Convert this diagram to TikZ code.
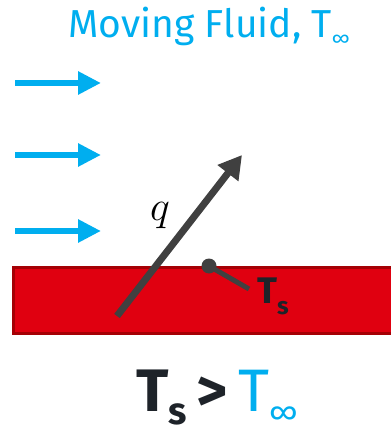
\RequirePackage{fix-cm}
\documentclass[tikz,border=0pt]{standalone}
\usepackage{fontspec}
\setmainfont{Fira Sans}
\usepackage{tikz}
\usetikzlibrary{arrows.meta}

\definecolor{fluidblue}{RGB}{0,174,239}
\definecolor{platered}{RGB}{224,0,16}
\definecolor{plateedge}{RGB}{165,0,5}
\definecolor{heatgray}{RGB}{64,64,64}
\definecolor{labeldark}{RGB}{30,35,41}

\begin{document}
\begin{tikzpicture}[x=1pt, y=-1pt,
  flow/.style={draw=fluidblue, line width=6pt, -{Triangle[length=23pt, width=22pt]}},
  heat/.style={draw=heatgray, line width=7pt, -{Triangle[length=23pt, width=25pt]}},
  txt/.style={inner sep=0pt, anchor=base west},
]
\useasboundingbox (0,0) rectangle (390,430);

% fluid
\node[txt, text=fluidblue, font=\fontsize{39}{46}\selectfont] (title) at (68,38)
  {Moving Fluid, T\raisebox{-0.2em}{\fontsize{20}{24}\selectfont ∞}};
\foreach \y/\n in {83/f1, 155/f2, 231/f3} {
  \coordinate (\n s) at (15,\y);
  \coordinate (\n e) at (101,\y);
  \draw[flow] (\n s) -- (\n e);
}

% plate
\draw[fill=platered, draw=plateedge, line width=3.5pt] (13.5,267.5) rectangle (400,333.5);

% heat flux
\coordinate (qs) at (117,316);
\coordinate (qe) at (242,155);
\draw[heat] (qs) -- (qe);
\node[txt, font=\fontsize{42}{50}\selectfont] (q) at (150,220) {$q$};

% surface temperature probe
\coordinate (probe) at (209,266);
\coordinate (lead) at (249,289);
\draw[heatgray, line width=5pt] (probe) -- (lead);
\fill[heatgray] (probe) circle (7.5);
\node[txt, text=labeldark, font=\bfseries\fontsize{37}{44}\selectfont] (Ts) at (257,303)
  {T\raisebox{-0.3em}{\fontsize{24}{28}\selectfont s}};

% condition
\node[inner sep=0pt, anchor=base, font=\fontsize{60}{70}\selectfont] (cond) at (217,411)
  {\textcolor{labeldark}{\bfseries T\raisebox{-0.22em}{\fontsize{38}{44}\selectfont s}\,>}\,\textcolor{fluidblue}{T\raisebox{-0.2em}{\fontsize{32}{40}\selectfont ∞}}};
\end{tikzpicture}
\end{document}
